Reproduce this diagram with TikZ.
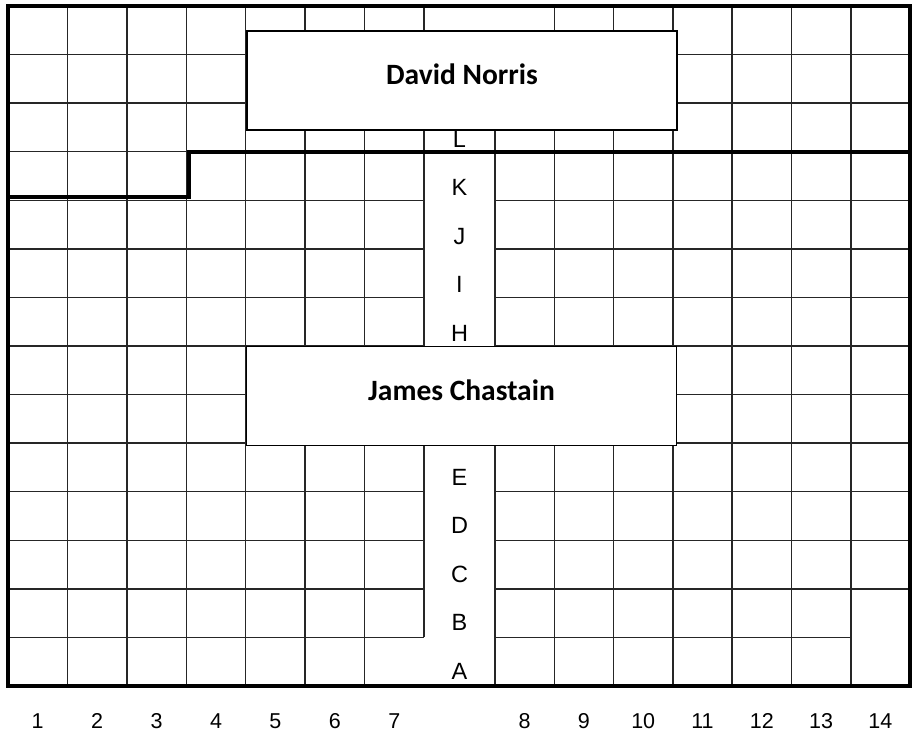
\documentclass[tikz,border=0pt]{standalone}
\usepackage{fontspec}
\setmainfont{Liberation Sans}
\newfontfamily\namefont{Carlito}
\begin{document}
\begin{tikzpicture}[x=1pt,y=-1pt,
  gridline/.style={line width=1.5pt, draw=black!85},
  heavyline/.style={line width=3.8pt, draw=black},
  namebox/.style={draw=black, line width=1.8pt, fill=white, minimum width=430pt, minimum height=99pt,
    inner sep=0pt, text height=19pt, text depth=11pt, font=\namefont\bfseries\fontsize{29.5}{34}\selectfont},
  letter/.style={anchor=base, inner sep=0pt, font=\fontsize{23.5}{26}\selectfont},
  number/.style={anchor=base, inner sep=0pt, font=\fontsize{21.5}{24}\selectfont}]
\useasboundingbox (0,0) rectangle (915,736);
% horizontal grid lines
\foreach \k in {1,...,12} {
  \draw[gridline] (8,{6+\k*48.571}) -- (424,{6+\k*48.571});
  \draw[gridline] (495,{6+\k*48.571}) -- (910,{6+\k*48.571});
}
\draw[gridline] (8,637.4) -- (424,637.4);
\draw[gridline] (495,637.4) -- (850.7,637.4);
% vertical grid lines
\foreach \j in {1,...,6} {
  \draw[gridline] ({8+\j*59.43},6) -- ({8+\j*59.43},686);
  \draw[gridline] ({495+\j*59.29},6) -- ({495+\j*59.29},686);
}
\draw[gridline] (424,6) -- (424,637.4);
\draw[gridline] (495,31) -- (495,686);
% corridor letters
\foreach \t [count=\i from 0] in {L,K,J,I,H}
  \node[letter] (lt-\t) at (459.5,{147+\i*48.5}) {\t};
\foreach \t [count=\i from 0] in {E,D,C,B,A}
  \node[letter] (lt-\t) at (459.5,{485+\i*48.5}) {\t};
% name boxes
\node[namebox] (david) at (462,80.5) {David Norris};
\node[namebox] (james) at (461.5,396) {James Chastain};
% heavy lines
\draw[heavyline] (8,6) rectangle (910,686);
\draw[heavyline] (8,197) -- (189,197) -- (189,152) -- (910,152);
% numbers
\foreach \n in {1,...,7}
  \node[number] (num-\n) at ({8+59.43*(\n-0.5)},728) {\n};
\foreach \n [count=\j] in {8,...,14}
  \node[number] (num-\n) at ({495+59.29*(\j-0.5)},728) {\n};
\end{tikzpicture}
\end{document}
